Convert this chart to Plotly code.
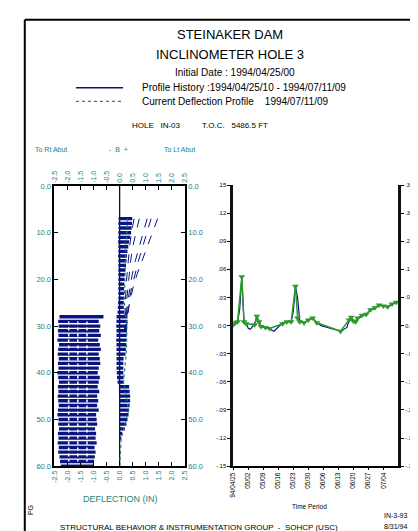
import plotly.graph_objects as go
import pandas as pd

W, H = 418, 531
def px(x):
    return x / W
def py(y):
    return 1 - y / H

TEAL = "#1b8383"
NAVY = "#0a1480"
GREEN = "#2b9a2b"
FONT = "Liberation Sans Narrow, Liberation Sans, Arial, sans-serif"

# ---------------- left panel data (deflection profile) ----------------
defl_ticks = [-2.5, -2.0, -1.5, -1.0, -0.5, 0.0, 0.5, 1.0, 1.5, 2.0, 2.5]
defl_labels = ["-2.5", "-2.0", "-1.5", "-1.0", "-0.5", "0.0", "0.5", "1.0", "1.5", "2.0", "2.5"]
depth_ticks = [0, 10, 20, 30, 40, 50, 60]
depth_labels = ["0.0", "10.0", "20.0", "30.0", "40.0", "50.0", "60.0"]

# dense profile history block near the centre line
hist_depth = [7, 8, 9, 10, 11, 12, 13, 14, 15, 16, 17, 18, 19, 20, 21, 22, 23, 24, 25, 26, 27,
              28, 29, 30, 31, 32, 33, 34, 35, 36, 37, 38, 39, 40, 41, 42,
              43, 44, 45, 46, 47, 48, 49, 50, 51, 52, 53, 54]
hist_left = [-0.04, -0.05, -0.04, -0.05, -0.05, -0.06, -0.05, -0.05, -0.06, -0.05, -0.05, -0.05, -0.05,
             -0.05, -0.05, -0.05, -0.05, -0.05, -0.06, -0.07, -0.08,
             -0.12, -0.12, -0.13, -0.12, -0.12, -0.13, -0.12, -0.12, -0.12, -0.12, -0.12, -0.12, -0.11,
             -0.10, -0.08,
             -0.03, -0.03, -0.02, -0.02, -0.02, -0.02, -0.02, -0.02, -0.02, -0.02, -0.01, -0.01]
hist_right = [0.48, 0.47, 0.46, 0.44, 0.40, 0.36, 0.33, 0.30, 0.28, 0.26, 0.24, 0.22, 0.20, 0.19,
              0.18, 0.17, 0.17, 0.16, 0.16, 0.16, 0.17,
              0.30, 0.30, 0.28, 0.28, 0.27, 0.26, 0.25, 0.24, 0.22,
              0.15, 0.14, 0.14, 0.14, 0.15, 0.16,
              0.36, 0.38, 0.40, 0.40, 0.38, 0.36, 0.34, 0.30, 0.26, 0.20,
              0.10, 0.04]

# outer (spreading) history profiles
spread_depth = [7, 10, 13, 16, 19, 22, 25, 28, 31]
spread_profiles = [
    [0.55, 0.45, 0.38, 0.32, 0.28, 0.24, 0.22, 0.20, 0.18],
    [0.75, 0.62, 0.50, 0.42, 0.36, 0.30, 0.26, 0.22, 0.20],
    [1.05, 0.90, 0.75, 0.60, 0.48, 0.38, 0.30, 0.25, 0.22],
    [1.20, 1.05, 0.88, 0.72, 0.58, 0.45, 0.35, 0.28, 0.24],
    [1.45, 1.25, 1.05, 0.85, 0.66, 0.50, 0.38, 0.30, 0.25],
]

# lower-left block of readings
block_depth = [28, 29, 30, 31, 32, 33, 34, 35, 36, 37, 38, 39, 40, 41, 42, 43, 44,
               45, 46, 47, 48, 49, 50, 51, 52, 53, 54, 55, 56, 57, 58, 59, 60]
block_left = [-2.30, -2.35, -2.33, -2.36, -2.34, -2.38, -2.32, -2.35, -2.37, -2.33, -2.36, -2.34,
              -2.38, -2.35, -2.32, -2.36, -2.34, -2.37, -2.35, -2.33, -2.36, -2.38, -2.34, -2.35,
              -2.32, -2.36, -2.34, -2.37, -2.33, -2.35, -2.30, -2.28, -2.25]
block_right = [-0.62, -0.80, -0.74, -0.78, -0.72, -0.82, -0.76, -0.72, -0.80, -0.76, -0.74, -0.80,
               -0.84, -0.76, -0.80, -0.84, -0.78, -0.86, -0.82, -0.86, -0.80, -0.90, -0.88, -0.86,
               -0.94, -0.90, -0.92, -0.88, -0.96, -0.92, -0.95, -0.98, -1.00]
block_gap_x = [-1.95, -1.60, -1.25]
block_gap_depth = [29, 59]

# current deflection profile
current_depth = [7, 15, 25, 30, 35, 42, 48, 54, 60]
current_defl = [0.30, 0.22, 0.18, 0.28, 0.26, 0.15, 0.34, 0.06, 0.0]

# ---------------- right panel data (time history) ----------------
start_date = "1994-04-25"
end_date = "1994-07-11"
blue_days = [0, 1, 2, 3, 4, 5, 6, 7, 8, 10, 11, 12, 13, 15, 17, 19, 21, 23, 25, 27, 28, 29, 30, 31,
             33, 35, 37, 39, 41, 44, 47, 50, 53, 54, 55, 56, 57, 58, 60, 62, 64, 66, 68, 70, 72, 74, 76]
blue_vals = [0.0, 0.002, 0.004, 0.017, 0.052, 0.005, 0.003, -0.003, -0.004, 0.002, 0.010, 0.004,
             -0.002, -0.001, -0.004, -0.006, -0.002, 0.003, 0.004, 0.004, 0.015, 0.042, 0.030, 0.005,
             0.003, 0.006, 0.008, 0.003, 0.000, -0.002, -0.004, -0.006, -0.002, 0.006, 0.008, 0.005,
             0.003, 0.007, 0.010, 0.012, 0.017, 0.018, 0.022, 0.021, 0.020, 0.023, 0.024]
green_days = [0, 1, 2, 4, 5, 6, 10, 11, 12, 13, 15, 17, 23, 25, 27, 29, 30, 31, 33, 35, 37, 39,
              50, 54, 55, 56, 57, 58, 60, 62, 64, 66, 68, 70, 72, 74, 76]
green_vals = [0.001, 0.003, 0.004, 0.052, 0.004, 0.002, 0.001, 0.010, 0.004, -0.001, -0.002, -0.003,
              0.002, 0.004, 0.004, 0.042, 0.008, 0.004, 0.003, 0.006, 0.008, 0.003,
              -0.006, 0.006, 0.009, 0.005, 0.004, 0.008, 0.011, 0.012, 0.017, 0.019, 0.022, 0.021,
              0.020, 0.023, 0.025]
time_tick_days = [0, 7, 14, 21, 28, 35, 42, 49, 56, 63, 70]
time_tick_labels = ["94/04/25", "05/02", "05/09", "05/16", "05/23", "05/30",
                    "06/06", "06/13", "06/20", "06/27", "07/04"]
val_ticks = [0.15, 0.12, 0.09, 0.06, 0.03, 0.0, -0.03, -0.06, -0.09, -0.12, -0.15]
val_labels_in = [".15", ".12", ".09", ".06", ".03", "0.0", "-.03", "-.06", "-.09", "-.12", "-.15"]
val_labels_cm = [".38", ".30", ".23", ".15", ".08", "0.0", "-.08", "-.15", "-.23", "-.30", "-.38"]

t0 = pd.Timestamp(start_date)
blue_dates = [t0 + pd.Timedelta(days=d) for d in blue_days]
green_dates = [t0 + pd.Timedelta(days=d) for d in green_days]
tick_dates = [t0 + pd.Timedelta(days=d) for d in time_tick_days]

fig = go.Figure()

# --- left panel traces ---
fig.add_trace(go.Bar(
    y=hist_depth, x=[r - l for l, r in zip(hist_left, hist_right)], base=hist_left,
    orientation="h", marker=dict(color=NAVY, line=dict(width=0)), width=0.72,
    xaxis="x", yaxis="y", showlegend=False, hoverinfo="skip"))
fig.add_trace(go.Bar(
    y=block_depth, x=[r - l for l, r in zip(block_left, block_right)], base=block_left,
    orientation="h", marker=dict(color=NAVY, line=dict(width=0)), width=0.72,
    xaxis="x", yaxis="y", showlegend=False, hoverinfo="skip"))
for gx in block_gap_x:
    fig.add_trace(go.Scatter(
        x=[gx, gx], y=block_gap_depth, mode="lines",
        line=dict(color="white", width=1.5, dash="dot"),
        xaxis="x", yaxis="y", showlegend=False, hoverinfo="skip"))
for prof in spread_profiles:
    fig.add_trace(go.Scatter(
        x=prof, y=spread_depth, mode="lines",
        line=dict(color=NAVY, width=1, dash="dash"),
        xaxis="x", yaxis="y", showlegend=False, hoverinfo="skip"))
fig.add_trace(go.Scatter(
    x=current_defl, y=current_depth, mode="lines",
    line=dict(color=TEAL, width=1.2, dash="dot"),
    xaxis="x", yaxis="y", showlegend=False, hoverinfo="skip"))
# invisible helpers so the mirrored axes are drawn
fig.add_trace(go.Scatter(x=current_defl, y=current_depth, mode="markers", opacity=0,
                         xaxis="x3", yaxis="y", showlegend=False, hoverinfo="skip"))
fig.add_trace(go.Scatter(x=current_defl, y=current_depth, mode="markers", opacity=0,
                         xaxis="x", yaxis="y3", showlegend=False, hoverinfo="skip"))

# --- right panel traces ---
fig.add_trace(go.Scatter(
    x=blue_dates, y=blue_vals, mode="lines", line=dict(color=NAVY, width=1.2),
    xaxis="x2", yaxis="y2", showlegend=False, hoverinfo="skip"))
fig.add_trace(go.Scatter(
    x=green_dates, y=green_vals, mode="lines+markers",
    line=dict(color=GREEN, width=1.5),
    marker=dict(symbol="triangle-down", size=6, color=GREEN),
    xaxis="x2", yaxis="y2", showlegend=False, hoverinfo="skip"))
fig.add_trace(go.Scatter(x=blue_dates, y=blue_vals, mode="markers", opacity=0,
                         xaxis="x2", yaxis="y4", showlegend=False, hoverinfo="skip"))

left_xdom = [px(43), px(176)]
left_ydom = [py(462), py(177)]
right_xdom = [px(225), px(393)]
right_ydom = [py(462), py(176)]

common_x = dict(range=[-2.5, 2.5], tickmode="array", tickvals=defl_ticks, ticktext=defl_labels,
                tickangle=-90, ticks="inside", ticklen=4, tickcolor="black",
                showline=True, linecolor="black", linewidth=1.5,
                tickfont=dict(family=FONT, size=7, color=TEAL),
                showgrid=False, zeroline=False, fixedrange=True)
common_y = dict(range=[60, 0], tickmode="array", tickvals=depth_ticks, ticktext=depth_labels,
                ticks="inside", ticklen=4, tickcolor="black",
                showline=True, linecolor="black", linewidth=1.5,
                tickfont=dict(family=FONT, size=7.5, color=TEAL),
                showgrid=False, zeroline=False, fixedrange=True)
right_y = dict(range=[-0.15, 0.15], tickmode="array", tickvals=val_ticks,
               ticks="outside", ticklen=3, tickcolor="black",
               showline=True, linecolor="#111111", linewidth=2.5,
               showgrid=False, zeroline=False, fixedrange=True)

fig.update_layout(
    width=W, height=H, margin=dict(l=0, r=0, t=0, b=0),
    paper_bgcolor="white", plot_bgcolor="white",
    barmode="overlay", showlegend=False,
    font=dict(family=FONT, color="black"),
    xaxis=dict(domain=left_xdom, anchor="y", side="bottom", **common_x),
    xaxis3=dict(overlaying="x", anchor="y", side="top", **common_x),
    yaxis=dict(domain=left_ydom, anchor="x", side="left", **common_y),
    yaxis3=dict(overlaying="y", anchor="x", side="right", **common_y),
    xaxis2=dict(domain=right_xdom, anchor="y2", type="date",
                range=[t0, pd.Timestamp(end_date)], tickmode="array",
                tickvals=tick_dates, ticktext=time_tick_labels, tickangle=-90,
                ticks="outside", ticklen=2, tickcolor="black",
                showline=True, linecolor="black", linewidth=1.5,
                tickfont=dict(family=FONT, size=6.5, color="black"),
                showgrid=False, zeroline=False, fixedrange=True),
    yaxis2=dict(domain=right_ydom, anchor="x2", side="left", ticktext=val_labels_in,
                tickfont=dict(family=FONT, size=6, color="black"), **right_y),
    yaxis4=dict(overlaying="y2", anchor="x2", side="right", ticktext=val_labels_cm,
                tickfont=dict(family=FONT, size=5.5, color="black"), **right_y),
)

shapes = [
    # page frame
    dict(type="line", xref="paper", yref="paper", x0=px(13), x1=px(420), y0=py(8), y1=py(8),
         line=dict(color="black", width=2)),
    dict(type="line", xref="paper", yref="paper", x0=px(13), x1=px(13), y0=py(8), y1=py(533),
         line=dict(color="black", width=2)),
    # centre line of the deflection plot
    dict(type="line", xref="x", yref="y domain", x0=0, x1=0, y0=0, y1=1,
         line=dict(color="black", width=1.2), layer="below"),
    # header legend samples
    dict(type="line", xref="paper", yref="paper", x0=px(65), x1=px(113), y0=py(77), y1=py(77),
         line=dict(color=NAVY, width=1.5)),
    dict(type="line", xref="paper", yref="paper", x0=px(65), x1=px(113), y0=py(91), y1=py(91),
         line=dict(color=TEAL, width=1.2, dash="dot")),
]
fig.update_layout(shapes=shapes)

def ann(text, x, y, size, color="black", xanchor="center", angle=0, yanchor="middle"):
    return dict(text=text, x=px(x), y=py(y), xref="paper", yref="paper", showarrow=False,
                xanchor=xanchor, yanchor=yanchor, textangle=angle,
                font=dict(family=FONT, size=size, color=color))

annotations = [
    ann("STEINAKER DAM", 222, 23, 13),
    ann("INCLINOMETER HOLE 3", 222, 43, 13),
    ann("Initial Date : 1994/04/25/00", 227, 62, 10),
    ann("Profile History :1994/04/25/10 - 1994/07/11/09", 130, 77, 10, xanchor="left"),
    ann("Current Deflection Profile    1994/07/11/09", 130, 91, 10, xanchor="left"),
    ann("HOLE   IN-03          T.O.C.   5486.5 FT", 191, 115, 8),
    ann("To Rt Abut", 40, 140, 7, TEAL),
    ann("-  B  +", 108, 140, 7, TEAL),
    ann("To Lt Abut", 170, 140, 7, TEAL),
    ann("DEFLECTION (IN)", 110, 495, 9, TEAL),
    ann("Time Period", 303, 503, 6.5),
    ann("To Rt Abut (+)", 411, 192, 5.5, TEAL, angle=-90),
    ann("Deflection (in)", 411, 310, 5.5, "black", angle=-90),
    ann("To Lt Abut (-)", 411, 392, 5.5, TEAL, angle=-90),
    ann("STRUCTURAL BEHAVIOR & INSTRUMENTATION GROUP  -  SOHCP (USC)", 190, 524, 8),
    ann("IN-3-93", 390, 512, 7),
    ann("8/31/94", 390, 523, 7),
    ann("PG", 19, 507, 7, angle=-90),
]
fig.update_layout(annotations=annotations)

fig.write_html("out.html")
